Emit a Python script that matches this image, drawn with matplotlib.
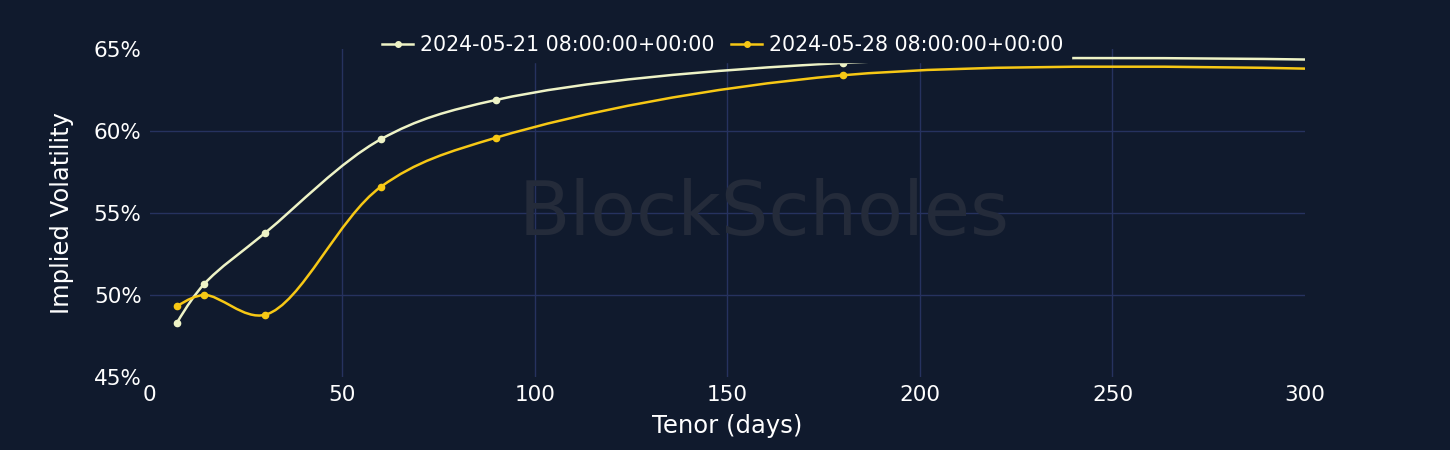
import numpy as np
import matplotlib
matplotlib.use('Agg')
import matplotlib.pyplot as plt
from matplotlib.path import Path
from matplotlib.patches import PathPatch
from matplotlib.lines import Line2D

# %%
# Data
tenor = [7, 14, 30, 60, 90, 180, 365]
iv_0521 = [48.3, 50.65, 53.8, 59.5, 61.9, 64.15, 64.1]
iv_0528 = [49.3, 50.0, 48.8, 56.6, 59.6, 63.4, 63.4]
labels = ['2024-05-21 08:00:00+00:00', '2024-05-28 08:00:00+00:00']
xticks = [0, 50, 100, 150, 200, 250, 300]
yticks = [45, 50, 55, 60, 65]

# %%
# Style
bg = '#101a2d'
grid = '#26325f'
colors = ['#eef3c6', '#f7c815']
fsize = 17.5
tsize = 15.5
lsize = 14.8


def tangent(p0, p1, p2, s=1.0):
    # plotly style spline tangents (pixel space)
    d1 = p0 - p1
    d2 = p2 - p1
    d1a = np.hypot(*d1) ** 0.5
    d2a = np.hypot(*d2) ** 0.5
    num = (d2a * d2a * d1 - d1a * d1a * d2) * s
    den1 = 3 * d2a * (d1a + d2a)
    den2 = 3 * d1a * (d1a + d2a)
    return p1 + num / den1, p1 - num / den2


def spline_path(ax, x, y):
    pts = ax.transData.transform(np.column_stack([x, y]))
    tans = [tangent(pts[i - 1], pts[i], pts[i + 1]) for i in range(1, len(pts) - 1)]
    verts = [pts[0], tans[0][0], pts[1]]
    codes = [Path.MOVETO, Path.CURVE3, Path.CURVE3]
    for i in range(2, len(pts) - 1):
        verts += [tans[i - 2][1], tans[i - 1][0], pts[i]]
        codes += [Path.CURVE4] * 3
    verts += [tans[-1][1], pts[-1]]
    codes += [Path.CURVE3] * 2
    verts = ax.transData.inverted().transform(np.array(verts))
    return Path(verts, codes)


fig = plt.figure(figsize=(14.5, 4.5), dpi=100, facecolor=bg)
ax = fig.add_axes([0.1034, 0.1622, 0.7966, 0.7289], facecolor=bg)
ax.set_xlim(0, 300)
ax.set_ylim(45, 65)

# grid only on inner ticks
for xv in xticks[1:-1]:
    ax.axvline(xv, color=grid, linewidth=1, zorder=0)
for yv in yticks[1:-1]:
    ax.axhline(yv, color=grid, linewidth=1, zorder=0)

for yv, c in zip([iv_0521, iv_0528], colors):
    p = PathPatch(spline_path(ax, tenor, yv), facecolor='none', edgecolor=c,
                  linewidth=1.8, zorder=3)
    ax.add_patch(p)
    ax.plot(tenor, yv, 'o', color=c, markersize=4.5, zorder=4)

ax.set_xticks(xticks)
ax.set_yticks(yticks)
ax.set_yticklabels(['%d%%' % v for v in yticks])
ax.tick_params(colors='white', labelsize=tsize, length=0, pad=6)
for s in ax.spines.values():
    s.set_visible(False)
ax.set_xlabel('Tenor (days)', color='white', fontsize=fsize, labelpad=6)
ax.set_ylabel('Implied Volatility', color='white', fontsize=fsize, labelpad=14)

# watermark
ax.text(0.532, 0.494, 'BlockScholes', transform=ax.transAxes, ha='center', va='center',
        fontsize=54, color='#242b3a', zorder=1)

handles = [Line2D([], [], color=c, marker='o', markersize=4, linewidth=1.8) for c in colors]
leg = ax.legend(handles, labels, loc='center', bbox_to_anchor=(0.496, 1.012), ncol=2,
                frameon=True, facecolor=bg, edgecolor=bg, framealpha=1,
                fontsize=lsize, labelcolor='white', handlelength=1.5,
                handletextpad=0.35, columnspacing=0.8, borderpad=0.35)
leg.set_zorder(5)

fig.savefig('out.png', dpi=100, facecolor=bg)
